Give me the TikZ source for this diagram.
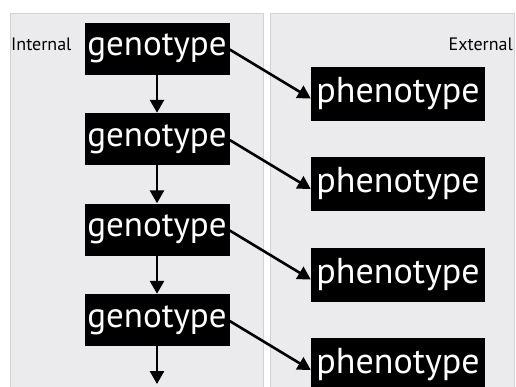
\documentclass[tikz,border=0pt]{standalone}
\usepackage{fontspec}
\setmainfont{PT Sans}
\usetikzlibrary{arrows.meta, positioning}

\definecolor{panelgray}{HTML}{EBEBED}
\definecolor{panelline}{HTML}{D2D2D4}

\tikzset{
	genbox/.style={fill=black, text=white, inner sep=0pt, minimum width=145pt, minimum height=52pt, font=\fontsize{35}{35}\selectfont},
	phenbox/.style={fill=black, text=white, inner sep=0pt, minimum width=174pt, minimum height=54pt, font=\fontsize{36}{36}\selectfont},
	flow/.style={-{Triangle[length=13pt, width=14pt]}, line width=2.6pt},
	side/.style={font=\fontsize{18}{18}\selectfont},
}

\begin{document}
\begin{tikzpicture}[x=1pt, y=-1pt]
	\useasboundingbox (0,0) rectangle (516,386);
	\fill[white] (0,0) rectangle (516,386);

	% the two panels
	\draw[fill=panelgray, draw=panelline] (10,13) rectangle (263,392);
	\draw[fill=panelgray, draw=panelline] (270,13) rectangle (514,392);
	\node[side, anchor=west, inner sep=1pt] (internal) at (10,44) {Internal};
	\node[side, anchor=east, inner sep=1pt] (external) at (514,44) {External};

	% genotype chain and its phenotypes
	\foreach \i in {1,...,4} {
		\node[genbox] (g\i) at (157, {48.5 + 90.5*(\i-1)}) {genotype};
		\node[phenbox] (p\i) at (398, {93.5 + 90.5*(\i-1)}) {phenotype};
		\draw[flow] ([yshift=-1pt]g\i.east) -- ([yshift=-5pt]p\i.west);
	}
	\foreach \i/\j in {1/2, 2/3, 3/4} {
		\draw[flow] (g\i) -- (g\j);
	}
	\coordinate (tail) at (157, 384);
	\draw[flow] (g4) -- (tail);
\end{tikzpicture}
\end{document}
